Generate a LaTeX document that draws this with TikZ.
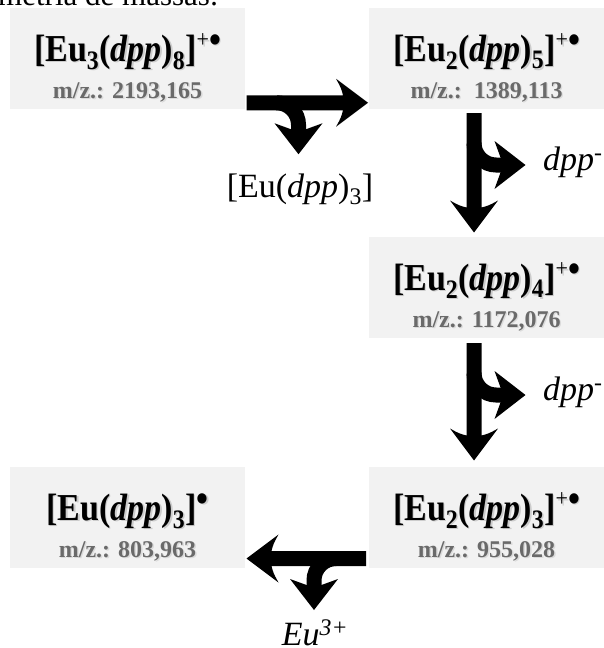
\documentclass[tikz,border=0pt]{standalone}
\usepackage{fontspec}
\setmainfont{Liberation Serif}
\usetikzlibrary{calc}
\definecolor{boxgray}{HTML}{F2F2F2}
\definecolor{mzgray}{HTML}{6A6A6A}
\newcommand\shadowed[2]{\leavevmode\rlap{\hspace{1.4pt}\raisebox{-1.4pt}{\color{#1}#2}}#2}
\newcommand\radplus{\raisebox{12pt}{\fontsize{22}{24}\selectfont\mdseries +}}
\newcommand\raddot{\raisebox{8pt}{•}}
\newcommand\ttl[1]{\scalebox{1}[1.12]{\shadowed{black!20}{#1}}}
\tikzset{
  box/.style={fill=boxgray, draw=none, minimum width=235pt, minimum height=101pt,
    inner sep=0pt, outer sep=0pt, anchor=north west},
  title/.style={font=\fontsize{34}{40}\selectfont\bfseries, anchor=base, inner sep=0pt},
  mz/.style={font=\fontsize{24}{28}\selectfont\bfseries, text=mzgray, anchor=base, inner sep=0pt},
  lbl/.style={font=\fontsize{34}{38}\selectfont, inner sep=0pt},
  pics/splitarrow/.style={code={
    \fill[black] (0,7.5) -- (#1-25,7.5) .. controls (#1-27,15) .. (#1-32,24) -- (#1,0)
      -- (#1-32,-24) .. controls (#1-27,-15) .. (#1-25,-7.5) -- (0,-7.5) -- cycle;
    \draw[black, line width=15pt] (30,0) arc[start angle=90, end angle=0, radius=22] -- (52,-27);
    \fill[black] (44.5,-26.5) .. controls (37,-24) .. (28,-20.5) -- (52,-51.5) -- (76,-20.5)
      .. controls (67,-24) .. (59.5,-26.5) -- cycle;
  }}
}
\begin{document}
\begin{tikzpicture}[x=1pt,y=1pt]
\useasboundingbox (0,0) rectangle (604,-648);
\clip (0,0) rectangle (604,-648);
% cropped caption line
\node[lbl, font=\fontsize{31}{36}\selectfont, anchor=base west] (cap) at (-2,-5) {metria de massas:};
% boxes
\node[box] (b1) at (10,-8) {};
\node[box] (b2) at (369,-8) {};
\node[box] (b3) at (369,-237) {};
\node[box] (b4) at (369,-467) {};
\node[box] (b5) at (10,-467) {};
% titles
\node[title] (t1) at ($(b1.north)+(0,-53)$) {\ttl{[Eu\textsubscript{3}(\textit{dpp})\textsubscript{8}]\radplus\raddot}};
\node[mz] (m1) at ($(b1.north)+(0,-90)$) {\shadowed{black!14}{m/z.: 2193,165}};
\node[title] (t2) at ($(b2.north)+(0,-53)$) {\ttl{[Eu\textsubscript{2}(\textit{dpp})\textsubscript{5}]\radplus\raddot}};
\node[mz] (m2) at ($(b2.north)+(0,-90)$) {\shadowed{black!14}{m/z.:\ \ 1389,113}};
\node[title] (t3) at ($(b3.north)+(0,-53)$) {\ttl{[Eu\textsubscript{2}(\textit{dpp})\textsubscript{4}]\radplus\raddot}};
\node[mz] (m3) at ($(b3.north)+(0,-90)$) {\shadowed{black!14}{m/z.: 1172,076}};
\node[title] (t4) at ($(b4.north)+(0,-53)$) {\ttl{[Eu\textsubscript{2}(\textit{dpp})\textsubscript{3}]\radplus\raddot}};
\node[mz] (m4) at ($(b4.north)+(0,-90)$) {\shadowed{black!14}{m/z.: 955,028}};
\node[title] (t5) at ($(b5.north)+(0,-53)$) {\ttl{[Eu(\textit{dpp})\textsubscript{3}]\raddot}};
\node[mz] (m5) at ($(b5.north)+(0,-90)$) {\shadowed{black!14}{m/z.: 803,963}};
% arrows
\pic at ($(b1.south east)+(1.5,6.25)$) {splitarrow=121.5};
\pic[rotate=-90, yscale=-1] at ($(b2.south west)+(105,-4)$) {splitarrow=119.5};
\pic[rotate=-90, yscale=-1] at ($(b3.south west)+(105,-5)$) {splitarrow=117.5};
\pic[rotate=180, yscale=-1] at ($(b4.south west)+(-3,9.5)$) {splitarrow=119.5};
% labels
\node[lbl, anchor=base] (l1) at (300,-197) {[Eu(\textit{dpp})\textsubscript{3}]};
\node[lbl, anchor=base west] (l2) at (543,-170) {\textit{dpp}\textsuperscript{-}};
\node[lbl, anchor=base west] (l3) at (543,-400) {\textit{dpp}\textsuperscript{-}};
\node[lbl, anchor=base] (l4) at (315,-645) {\textit{Eu}\textsuperscript{\textit{3+}}};
\end{tikzpicture}
\end{document}
